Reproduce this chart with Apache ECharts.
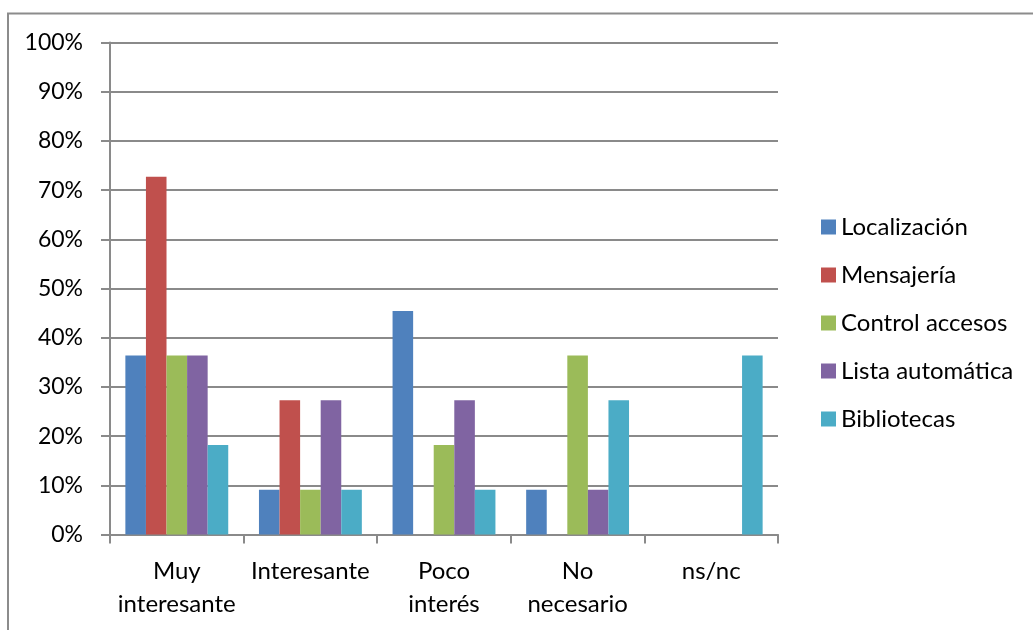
<!DOCTYPE html>
<html>
<head>
<meta charset="utf-8">
<title>Valoración de servicios</title>
<script src="https://cdn.jsdelivr.net/npm/echarts@6/dist/echarts.min.js"></script>
<style>
  html, body { margin: 0; padding: 0; background: #fff; }
  #chart { width: 1033px; height: 630px; }
</style>
</head>
<body>
<div id="chart"></div>
<script>
// Response categories along the x axis
const categories = ['Muy\ninteresante', 'Interesante', 'Poco\ninterés', 'No\nnecesario', 'ns/nc'];

// Share of answers (%) per service, one value per category
const localizacion = [36.36, 9.09, 45.45, 9.09, 0];
const mensajeria = [72.73, 27.27, 0, 0, 0];
const controlAccesos = [36.36, 9.09, 18.18, 36.36, 0];
const listaAutomatica = [36.36, 27.27, 27.27, 9.09, 0];
const bibliotecas = [18.18, 9.09, 9.09, 27.27, 36.36];

const seriesNames = ['Localización', 'Mensajería', 'Control accesos', 'Lista automática', 'Bibliotecas'];
const seriesValues = [localizacion, mensajeria, controlAccesos, listaAutomatica, bibliotecas];
const seriesColors = ['#4F81BD', '#C0504D', '#9BBB59', '#8064A2', '#4BACC6'];

const FONT = 'Lato, "Open Sans", sans-serif';
const GRID_GRAY = '#8a8a8a';

const chart = echarts.init(document.getElementById('chart'), null, { renderer: 'canvas' });

chart.setOption({
  animation: false,
  backgroundColor: '#ffffff',
  textStyle: { fontFamily: FONT, color: '#000' },
  graphic: [
    {
      // Chart frame (open on the right and bottom)
      type: 'polyline',
      silent: true,
      shape: { points: [[8, 640], [8, 13.5], [1040, 13.5]] },
      style: { stroke: '#8c8c8c', lineWidth: 2, fill: null }
    }
  ],
  grid: { left: 110, right: 255, top: 42.5, bottom: 95.5, containLabel: false },
  legend: {
    orient: 'vertical',
    left: 821,
    top: 215,
    padding: 0,
    itemWidth: 15,
    itemHeight: 15,
    itemGap: 24,
    icon: 'rect',
    data: seriesNames,
    textStyle: { fontFamily: FONT, fontSize: 24, color: '#000' }
  },
  xAxis: {
    type: 'category',
    data: categories,
    boundaryGap: true,
    axisLine: { show: true, lineStyle: { color: GRID_GRAY, width: 2 } },
    axisTick: { show: true, length: 9, alignWithLabel: false, lineStyle: { color: GRID_GRAY, width: 2 } },
    axisLabel: { fontFamily: FONT, fontSize: 24, color: '#000', margin: 20, lineHeight: 33, interval: 0 },
    splitLine: { show: false }
  },
  yAxis: {
    type: 'value',
    min: 0,
    max: 100,
    interval: 10,
    axisLine: { show: true, lineStyle: { color: GRID_GRAY, width: 2 } },
    axisTick: { show: true, length: 9, lineStyle: { color: GRID_GRAY, width: 2 } },
    axisLabel: { fontFamily: FONT, fontSize: 23, color: '#000', margin: 27, formatter: '{value}%' },
    splitLine: { show: true, lineStyle: { color: GRID_GRAY, width: 2 } }
  },
  series: seriesNames.map((name, i) => ({
    name: name,
    type: 'bar',
    data: seriesValues[i],
    barGap: '0%',
    barCategoryGap: '23%',
    itemStyle: { color: seriesColors[i] }
  }))
});
</script>
</body>
</html>
